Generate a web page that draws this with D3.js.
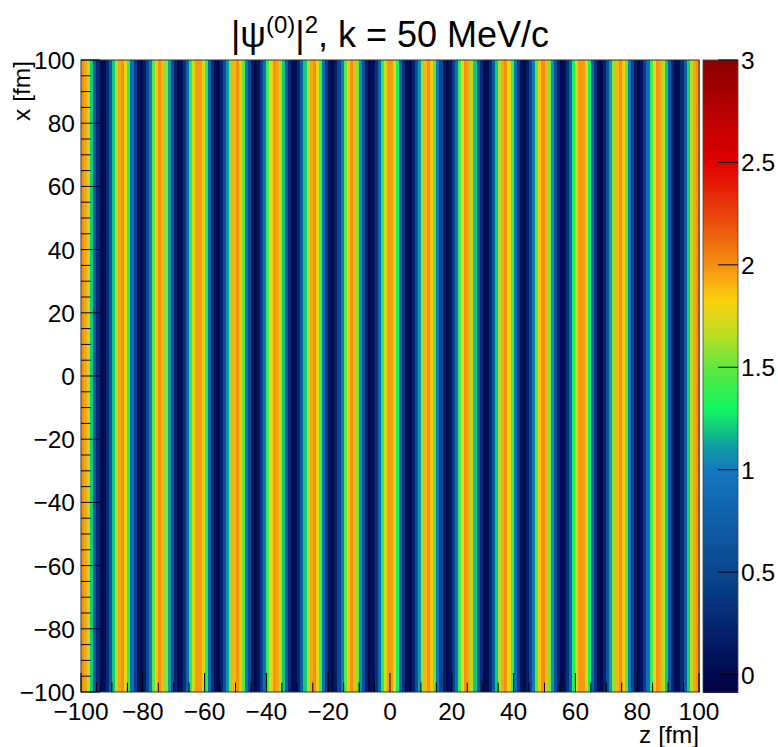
<!DOCTYPE html>
<html>
<head>
<meta charset="utf-8">
<script src="https://cdn.jsdelivr.net/npm/d3@7"></script>
<style>
  html, body { margin: 0; padding: 0; background: #ffffff; }
  svg { display: block; }
  text { font-family: "Liberation Sans", Arial, Helvetica, sans-serif; fill: #000; }
</style>
</head>
<body>
<svg id="chart" width="778" height="747"></svg>
<script>
// ---------------- data ----------------
const zRange = [-100, 100];   // z [fm]
const xRange = [-100, 100];   // x [fm]
// |psi|^2 per 1 fm z-bin (uniform in x), bins from z=-100 to z=100
const zBinValues = [
  1.99,1.94,1.66,1.21,0.71,0.28,0.03,0.03,0.27,0.70,
  1.20,1.65,1.94,1.99,1.79,1.40,0.90,0.43,0.10,0.00,
  0.15,0.51,1.00,1.48,1.85,2.00,1.90,1.58,1.11,0.61,
  0.21,0.01,0.06,0.35,0.79,1.30,1.72,1.97,1.97,1.73,
  1.30,0.80,0.35,0.06,0.01,0.21,0.60,1.10,1.57,1.90,
  2.00,1.85,1.49,1.00,0.52,0.15,0.00,0.10,0.43,0.90,
  1.39,1.79,1.99,1.94,1.65,1.20,0.70,0.28,0.03,0.03,
  0.27,0.70,1.20,1.65,1.94,1.99,1.79,1.40,0.90,0.43,
  0.10,0.00,0.15,0.51,1.00,1.48,1.85,2.00,1.90,1.57,
  1.10,0.61,0.21,0.01,0.06,0.35,0.80,1.30,1.72,1.97,
  1.97,1.72,1.30,0.80,0.35,0.06,0.01,0.21,0.61,1.10,
  1.57,1.90,2.00,1.85,1.48,1.00,0.51,0.15,0.00,0.10,
  0.43,0.90,1.40,1.79,1.99,1.94,1.65,1.20,0.70,0.27,
  0.03,0.03,0.28,0.70,1.20,1.65,1.94,1.99,1.79,1.39,
  0.90,0.43,0.10,0.00,0.15,0.52,1.00,1.49,1.85,2.00,
  1.90,1.57,1.10,0.60,0.21,0.01,0.06,0.35,0.80,1.30,
  1.73,1.97,1.97,1.72,1.30,0.79,0.35,0.06,0.01,0.21,
  0.61,1.11,1.58,1.90,2.00,1.85,1.48,1.00,0.51,0.15,
  0.00,0.10,0.43,0.90,1.40,1.79,1.99,1.94,1.65,1.20,
  0.70,0.27,0.03,0.03,0.28,0.71,1.21,1.66,1.94,1.99
];
const colorRange = [-0.085, 3];
const xTickValues = [-100,-80,-60,-40,-20,0,20,40,60,80,100];
const yTickValues = [-100,-80,-60,-40,-20,0,20,40,60,80,100];
const colorTickValues = [0, 0.5, 1, 1.5, 2, 2.5, 3];
const colorTickLabels = ["0", "0.5", "1", "1.5", "2", "2.5", "3"];
// palette stops (value -> colour)
const paletteValues = [-0.085, 0, 0.5, 1.0, 1.1, 1.2, 1.3, 1.5, 1.67, 1.83, 2.0, 2.2, 2.5, 3.0];
const paletteColors = ["#00003c","#000850","#0a4690","#1478c0","#1098a8","#10c880","#10f860",
                       "#60e840","#c0dc20","#fcd010","#f59010","#ec5010","#e00000","#8a0000"];

// ---------------- layout ----------------
const plot = { left: 81, right: 699, top: 60, bottom: 692 };
const cbar = { left: 703, right: 738 };
const fs = 24.5;

const svg = d3.select("#chart");
const zScale = d3.scaleLinear().domain(zRange).range([plot.left, plot.right]);
const xScale = d3.scaleLinear().domain(xRange).range([plot.bottom, plot.top]);
const color = d3.scaleLinear().domain(paletteValues).range(paletteColors)
  .interpolate(d3.interpolateRgb).clamp(true);
const cScale = d3.scaleLinear().domain(colorRange).range([plot.bottom, plot.top]);
const fmt = d => String(d).replace("-", "\u2212");

// heatmap bins
const binW = (zRange[1] - zRange[0]) / zBinValues.length;
svg.append("g").selectAll("rect").data(zBinValues).join("rect")
  .attr("x", (d, i) => zScale(zRange[0] + i * binW))
  .attr("width", (d, i) => zScale(zRange[0] + (i + 1) * binW) - zScale(zRange[0] + i * binW) + 0.5)
  .attr("y", xScale(xRange[1]))
  .attr("height", xScale(xRange[0]) - xScale(xRange[1]))
  .attr("fill", d => color(d))
  .attr("shape-rendering", "crispEdges");

// frame
svg.append("rect")
  .attr("x", plot.left).attr("y", plot.top)
  .attr("width", plot.right - plot.left).attr("height", plot.bottom - plot.top)
  .attr("fill", "none").attr("stroke", "#333").attr("stroke-width", 1);

// x axis ticks (inside, pointing up)
const gx = svg.append("g");
const xMinor = d3.range(zRange[0], zRange[1] + 0.001, 5);
gx.selectAll("line").data(xMinor).join("line")
  .attr("x1", d => zScale(d)).attr("x2", d => zScale(d))
  .attr("y1", plot.bottom)
  .attr("y2", d => plot.bottom - (d % 20 === 0 ? 19 : 9.5))
  .attr("stroke", "#000").attr("stroke-width", 1);
gx.selectAll("text").data(xTickValues).join("text")
  .attr("x", d => zScale(d)).attr("y", plot.bottom + 28)
  .attr("text-anchor", "middle").attr("font-size", fs)
  .text(fmt);

// y axis ticks (inside, pointing right)
const gy = svg.append("g");
const yMinor = d3.range(xRange[0], xRange[1] + 0.001, 5);
gy.selectAll("line").data(yMinor).join("line")
  .attr("y1", d => xScale(d)).attr("y2", d => xScale(d))
  .attr("x1", plot.left)
  .attr("x2", d => plot.left + (d % 20 === 0 ? 19 : 9.5))
  .attr("stroke", "#000").attr("stroke-width", 1);
gy.selectAll("text").data(yTickValues).join("text")
  .attr("x", plot.left - 6).attr("y", d => xScale(d) + 9)
  .attr("text-anchor", "end").attr("font-size", fs)
  .text(fmt);

// axis titles
svg.append("text").attr("x", plot.right).attr("y", 743)
  .attr("text-anchor", "end").attr("font-size", fs).text("z [fm]");
svg.append("text")
  .attr("transform", `translate(30, ${plot.top + 1}) rotate(-90)`)
  .attr("text-anchor", "end").attr("font-size", fs).text("x [fm]");

// colour bar
const nSteps = 200;
const cStep = (colorRange[1] - colorRange[0]) / nSteps;
const cbarSteps = d3.range(nSteps).map(i => colorRange[0] + i * cStep);
svg.append("g").selectAll("rect").data(cbarSteps).join("rect")
  .attr("x", cbar.left).attr("width", cbar.right - cbar.left)
  .attr("y", d => cScale(d + cStep))
  .attr("height", d => cScale(d) - cScale(d + cStep) + 0.6)
  .attr("fill", d => color(d + cStep / 2))
  .attr("shape-rendering", "crispEdges");
svg.append("rect")
  .attr("x", cbar.left).attr("y", plot.top)
  .attr("width", cbar.right - cbar.left).attr("height", plot.bottom - plot.top)
  .attr("fill", "none").attr("stroke", "#444").attr("stroke-width", 0.8);
const gc = svg.append("g");
gc.selectAll("line").data(colorTickValues).join("line")
  .attr("x1", cbar.right - 20).attr("x2", cbar.right)
  .attr("y1", d => cScale(d)).attr("y2", d => cScale(d))
  .attr("stroke", "#000").attr("stroke-width", 1);
gc.selectAll("text").data(colorTickValues).join("text")
  .attr("x", cbar.right + 3).attr("y", d => cScale(d) + 9)
  .attr("font-size", fs)
  .text((d, i) => colorTickLabels[i]);

// title
const title = svg.append("text").attr("x", 390).attr("y", 47)
  .attr("text-anchor", "middle").attr("font-size", 36);
title.append("tspan").text("|\u03C8");
title.append("tspan").attr("font-size", 24).attr("dy", -14).text("(0)");
title.append("tspan").attr("dy", 14).text("|");
title.append("tspan").attr("font-size", 24).attr("dy", -14).text("2");
title.append("tspan").attr("dy", 14).text(", k = 50 MeV/c");
</script>
</body>
</html>
